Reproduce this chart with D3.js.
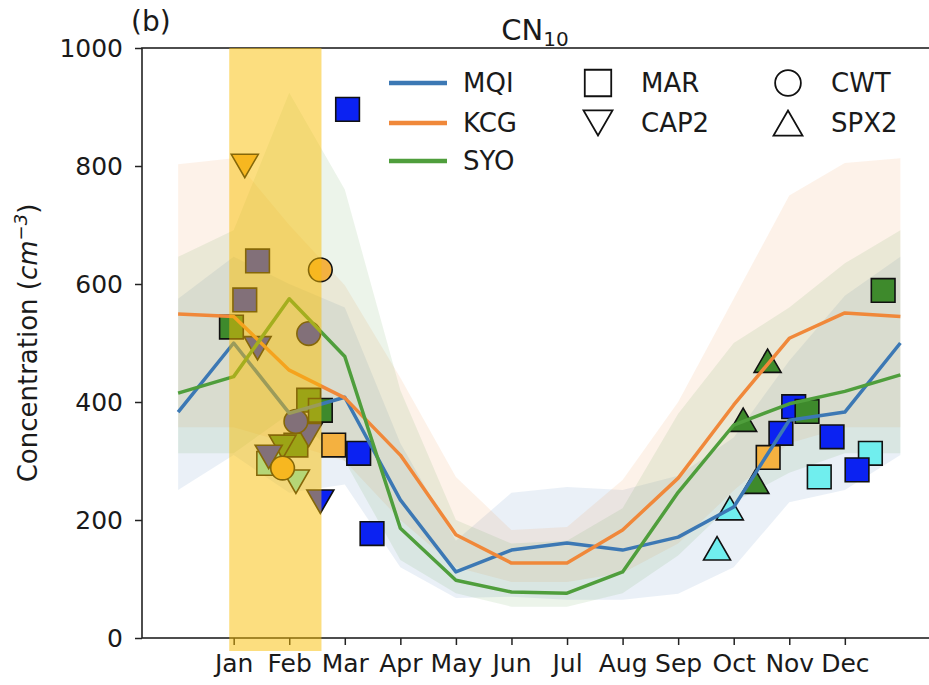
<!DOCTYPE html>
<html><head><meta charset="utf-8">
<script src="https://cdn.jsdelivr.net/npm/d3@7"></script>
<style>body{margin:0;background:#fff}svg{display:block}text{font-family:"DejaVu Sans",sans-serif;fill:#1a1a1a}</style>
</head><body><svg id="c" width="929" height="685"></svg>
<script>
// month positions: 0 = Dec (prev), 1 = Jan ... 12 = Dec, 13 = Jan (next)
const monthIdx = [0,1,2,3,4,5,6,7,8,9,10,11,12,13];
const monthLabels = ["Jan","Feb","Mar","Apr","May","Jun","Jul","Aug","Sep","Oct","Nov","Dec"];
const yTicks = [0,200,400,600,800,1000];

const mqiMean  = [383,500,381,408,234,112,149,161,149,171,222,369,383,500];
const mqiUpper = [575,646,600,560,330,165,246,256,251,275,340,470,580,646];
const mqiLower = [251,310,246,260,120,68,70,65,65,75,120,230,251,310];

const kcgMean  = [549,545,454,407,310,175,127,127,183,271,395,508,551,545];
const kcgUpper = [803,813,700,598,441,273,183,188,268,400,575,750,805,813];
const kcgLower = [357,357,330,300,200,120,95,95,110,160,250,330,357,357];

const syoMean  = [415,443,575,477,186,98,78,76,112,247,361,397,418,446];
const syoUpper = [646,691,924,760,420,200,160,165,220,380,500,560,635,691];
const syoLower = [313,313,380,300,132,76,53,53,76,140,230,280,313,313];

// campaign observations: month position, value, colour group
const marX = [3.05,1.43,1.20,0.96,2.35,2.56,2.12,1.63,2.80,3.25,3.49,12.69,11.08,11.32,10.85,11.77,10.62,12.46,12.22,11.54];
const marY = [896,639,573,527,403,386,327,296,327,313,177,589,392,384,347,341,306,313,285,273];
const marC = ["b","b","b","g","g","g","g","c","o","b","b","g","b","g","b","b","o","c","b","c"];
const cap2X = [1.20,1.43,2.35,1.88,1.63,2.12,2.56];
const cap2Y = [800,491,344,324,307,265,231];
const cap2C = ["o","b","b","g","b","c","b"];
const cwtX = [2.56,2.35,2.12,1.88];
const cwtY = [624,516,367,288];
const cwtC = ["o","b","b","o"];
const spx2X = [10.61,10.17,10.39,9.93,9.70];
const spx2Y = [470,370,265,220,152];
const spx2C = ["g","g","g","c","c"];

const highlight = {x0:0.92, x1:2.58};

const lineColors = {MQI:"#3c78b4", KCG:"#f0883a", SYO:"#4f9e3c"};
const markColors = {b:"#0b22f2", g:"#3e8a2c", c:"#70eeee", o:"#f4b140"};

const svg = d3.select("#c");
const m = {l:142, r:936.5, t:48, b:638};
const x = d3.scaleLinear().domain([-0.65,13.65]).range([m.l,m.r]);
const y = d3.scaleLinear().domain([0,1000]).range([m.b,m.t]);

svg.append("defs").append("clipPath").attr("id","clip").append("rect")
  .attr("x",m.l).attr("y",m.t).attr("width",m.r-m.l).attr("height",m.b-m.t);
const plot = svg.append("g").attr("clip-path","url(#clip)");

const series = [
  {name:"MQI", mean:mqiMean, up:mqiUpper, lo:mqiLower},
  {name:"KCG", mean:kcgMean, up:kcgUpper, lo:kcgLower},
  {name:"SYO", mean:syoMean, up:syoUpper, lo:syoLower}
];
const area = d3.area().x(d=>x(d.x)).y0(d=>y(d.lo)).y1(d=>y(d.up));
const line = d3.line().x(d=>x(d.x)).y(d=>y(d.v));

series.forEach(s=>{
  const pts = monthIdx.map((mi,i)=>({x:mi, lo:s.lo[i], up:s.up[i]}));
  plot.append("path").attr("d",area(pts)).attr("fill",lineColors[s.name]).attr("fill-opacity",0.11);
});

const sym = {
  square: d3.symbol().type(d3.symbolSquare).size(560),
  circle: d3.symbol().type(d3.symbolCircle).size(440),
  lsquare: d3.symbol().type(d3.symbolSquare).size(700),
  lcircle: d3.symbol().type(d3.symbolCircle).size(520)
};
function triPath(down, s){
  const h = s*0.866, w = s;
  if(down) return `M${-w/2},${-h/2}L${w/2},${-h/2}L0,${h/2}Z`;
  return `M${-w/2},${h/2}L${w/2},${h/2}L0,${-h/2}Z`;
}
const mg = plot.append("g");
function drawSet(xs, ys, cs, kind){
  xs.forEach((xv,i)=>{
    let d;
    if(kind==="square") d = sym.square();
    else if(kind==="circle") d = sym.circle();
    else d = triPath(kind==="down", 27);
    mg.append("path").attr("d",d)
      .attr("transform",`translate(${x(xv)},${y(ys[i])})`)
      .attr("fill",markColors[cs[i]]).attr("stroke","#111").attr("stroke-width",1.6);
  });
}
drawSet(marX, marY, marC, "square");
drawSet(cap2X, cap2Y, cap2C, "down");
drawSet(cwtX, cwtY, cwtC, "circle");
drawSet(spx2X, spx2Y, spx2C, "up");

series.forEach(s=>{
  const pts = monthIdx.map((mi,i)=>({x:mi, v:s.mean[i]}));
  plot.append("path").attr("d",line(pts)).attr("fill","none")
    .attr("stroke",lineColors[s.name]).attr("stroke-width",3.5).attr("stroke-linejoin","round");
});

// axes
const axG = svg.append("g");
const xAxis = d3.axisBottom(x).tickValues(d3.range(1,13)).tickFormat(d=>monthLabels[d-1]).tickSize(7).tickPadding(9);
const xa = axG.append("g").attr("transform",`translate(0,${m.b})`).call(xAxis);
const yAxis = d3.axisLeft(y).tickValues(yTicks).tickFormat(d3.format("d")).tickSize(7).tickPadding(12);
const ya = axG.append("g").attr("transform",`translate(${m.l},0)`).call(yAxis);
[xa,ya].forEach(g=>{
  g.select(".domain").remove();
  g.selectAll(".tick line").attr("stroke","#222").attr("stroke-width",1.5);
  g.selectAll(".tick text").attr("font-size",25).attr("fill","#111").style("font-family","'DejaVu Sans',sans-serif");
});
axG.append("rect").attr("x",m.l).attr("y",m.t).attr("width",m.r-m.l).attr("height",m.b-m.t)
  .attr("fill","none").attr("stroke","#222").attr("stroke-width",1.6);

// highlight band on top
svg.append("rect").attr("x",x(highlight.x0)).attr("width",x(highlight.x1)-x(highlight.x0))
  .attr("y",m.t).attr("height",651-m.t).attr("fill","#f9bd00").attr("fill-opacity",0.5);

// titles
svg.append("text").attr("x",131).attr("y",31).attr("font-size",28).text("(b)");
const tt = svg.append("text").attr("x",535).attr("y",40).attr("text-anchor","middle").attr("font-size",29);
tt.append("tspan").text("CN");
tt.append("tspan").attr("font-size",20).attr("dy",6).text("10");

const yl = svg.append("text").attr("transform",`translate(37,343) rotate(-90)`).attr("text-anchor","middle").attr("font-size",26);
yl.append("tspan").text("Concentration (");
yl.append("tspan").attr("font-style","italic").text("cm");
yl.append("tspan").attr("font-size",18).attr("dy",-10).attr("font-style","italic").text("−3");
yl.append("tspan").attr("dy",10).text(")");

// legend
const lg = svg.append("g");
const legLines = ["MQI","KCG","SYO"];
const legRows = [83,123,161];
legLines.forEach((n,i)=>{
  lg.append("line").attr("x1",389).attr("x2",447).attr("y1",legRows[i]).attr("y2",legRows[i])
    .attr("stroke",lineColors[n]).attr("stroke-width",4.5);
  lg.append("text").attr("x",463).attr("y",legRows[i]+9).attr("font-size",26).text(n);
});
const legMarks = [
  {k:"square", x:598, y:83, t:"MAR"},
  {k:"down", x:598, y:123, t:"CAP2"},
  {k:"circle", x:788, y:83, t:"CWT"},
  {k:"up", x:788, y:123, t:"SPX2"}
];
legMarks.forEach(d=>{
  let p;
  if(d.k==="square") p = sym.lsquare();
  else if(d.k==="circle") p = sym.lcircle();
  else p = triPath(d.k==="down",29);
  lg.append("path").attr("d",p).attr("transform",`translate(${d.x},${d.y})`)
    .attr("fill","#fff").attr("stroke","#111").attr("stroke-width",1.8);
  lg.append("text").attr("x",d.x+43).attr("y",d.y+9).attr("font-size",26).text(d.t);
});
</script></body></html>
